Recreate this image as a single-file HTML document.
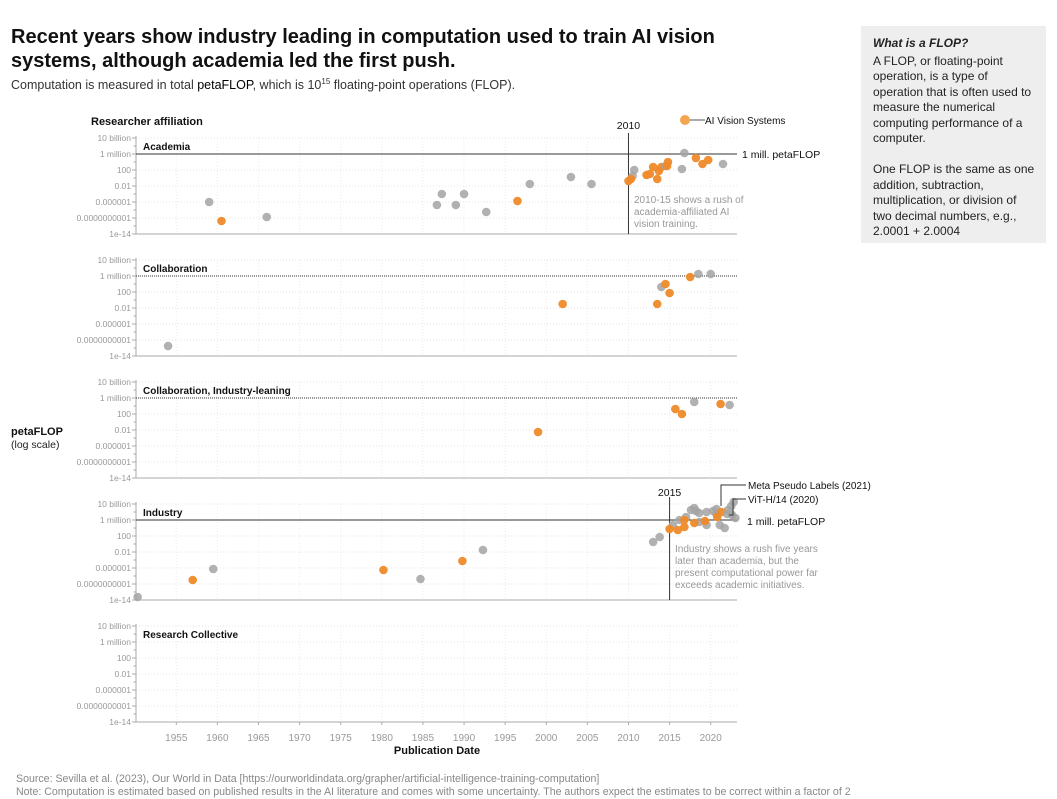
<!DOCTYPE html>
<html><head><meta charset="utf-8">
<style>
body{margin:0;background:#fff;font-family:"Liberation Sans",sans-serif;}
#wrap{position:relative;width:1057px;height:799px;overflow:hidden;}
.t{position:absolute;}
</style></head><body>
<div id="wrap">
<div class="t" style="left:11px;top:25px;width:740px;font-size:20px;font-weight:bold;line-height:24px;color:#111;">Recent years show industry leading in computation used to train AI vision systems, although academia led the first push.</div>
<div class="t" style="left:11px;top:77px;font-size:12.5px;color:#333;">Computation is measured in total <span style="color:#000">petaFLOP</span>, which is 10<sup style="font-size:8px">15</sup> floating-point operations (FLOP).</div>
<div class="t" style="left:861px;top:26px;width:163px;height:197px;padding:10px 10px 10px 12px;background:#eeeeee;font-size:12px;line-height:15.5px;color:#222;">
<div style="font-weight:bold;font-style:italic;margin-bottom:2px;">What is a FLOP?</div>
A FLOP, or floating-point operation, is a type of operation that is often used to measure the numerical computing performance of a computer.<br><br>One FLOP is the same as one addition, subtraction, multiplication, or division of two decimal numbers, e.g., 2.0001 + 2.0004</div>
<div class="t" style="left:16px;top:773px;font-size:10.6px;line-height:13px;color:#888;white-space:nowrap;">Source: Sevilla et al. (2023), Our World in Data [https://ourworldindata.org/grapher/artificial-intelligence-training-computation]<br>Note: Computation is estimated based on published results in the AI literature and comes with some uncertainty. The authors expect the estimates to be correct within a factor of 2</div>
<svg id="chart" width="1057" height="799" style="position:absolute;left:0;top:0;"></svg>
</div>
<script>
const panelNames=["Academia","Collaboration","Collaboration, Industry-leaning","Industry","Research Collective"];
const yTickVals=[10,6,2,-2,-6,-10,-14];
const yTickLabels=["10 billion","1 million","100","0.01","0.000001","0.0000000001","1e-14"];
const xTicks=[1955,1960,1965,1970,1975,1980,1985,1990,1995,2000,2005,2010,2015,2020];
const ptPanel=[0,0,0,0,0,0,0,0,0,0,0,0,0,0,0,0,0,0,0,0,0,0,0,0,0,0,0,0,0,0,0,
1,1,1,1,1,1,1,1,1,
2,2,2,2,2,2,
3,3,3,3,3,3,3,3,3,3,3,3,3,3,3,3,3,3,3,3,3,3,3,3,3,3,3,3,3,3,3,3,3,3,3,3,3,3,3,
4];
const ptYear=[1959,1960.5,1966,1986.7,1987.3,1989,1990,1992.7,1996.5,1998,2003,2005.5,2010.7,2010.5,2010,2010.3,2012.2,2012.6,2013,2014,2013.7,2014.5,2014.8,2014.7,2013.5,2016.5,2016.8,2018.2,2019,2019.7,2021.5,
1954,2002,2013.5,2014,2014.5,2015,2017.5,2018.5,2020,
1999,2015.7,2016.5,2018,2021.2,2022.3,
1950.3,1957,1959.5,1980.2,1984.7,1989.8,1992.3,2013,2013.8,2015.4,2016.2,2017,2017.6,2018.6,2018.2,2019.5,2019.5,2020.7,2021.1,2021.7,2020.7,2022.1,2022.5,2022.8,2023,2022.6,2018.6,2020.3,2018,
2015,2016,2016.8,2016.8,2018,2019.3,2020.8,2021.3,
2022];
const ptLog=[-6,-10.75,-9.75,-6.75,-4,-6.75,-4,-8.5,-5.75,-1.5,0.25,-1.5,2,0.5,-0.75,-0.25,0.75,1,2.75,2.75,1.75,3,4,3,-0.25,2.25,6.25,5,3.5,4.5,3.5,
-11.5,-1,-1,3.25,4,1.75,5.75,6.5,6.5,
-2.5,3.25,2,5,4.5,4.25,
-13.25,-9,-6.25,-6.5,-8.75,-4.25,-1.5,0.5,1.75,4.75,6,6.75,8.5,5.5,8.25,4.75,8,7.5,4.75,4,8.75,8.5,9.5,10.5,6.5,7.25,7.75,8.25,9,
3.75,3.5,4.25,6,5.25,5.75,6.75,8,
7.5];
const ptVision=[0,1,0,0,0,0,0,0,1,0,0,0,0,0,1,1,1,1,1,1,1,0,1,1,1,0,0,1,1,1,0,
0,1,1,0,1,1,1,0,0,
1,1,1,0,1,0,
0,1,0,1,0,1,0,0,0,0,0,0,0,0,0,0,0,0,0,0,0,0,0,0,0,0,0,0,0,
1,1,1,1,1,1,1,1,
0];
const ns="http://www.w3.org/2000/svg";
const svg=document.getElementById('chart');
function el(tag,attrs,parent){const e=document.createElementNS(ns,tag);for(const k in attrs)e.setAttribute(k,attrs[k]);(parent||svg).appendChild(e);return e;}
function txt(x,y,s,attrs){const e=el('text',Object.assign({x:x,y:y,'font-family':'Liberation Sans, sans-serif'},attrs));e.textContent=s;return e;}
const X0=136,X1=737,Y0=1950.1,Y1=2023.2;
function xs(yr){return X0+(yr-Y0)/(Y1-Y0)*(X1-X0);}
const panelTop=[138,260,382,504,626];
function ys(p,v){return panelTop[p]+(10-v)*4;}
txt(91,125,"Researcher affiliation",{'font-size':11,'font-weight':'bold',fill:'#111'});
panelNames.forEach((nm,p)=>{
  const g=el('g',{});
  
  
  for(let v=10;v>=-14;v-=2){
    if(yTickVals.indexOf(v)>=0){
      const gl=el('line',{x1:X0,x2:X1,y1:ys(p,v),y2:ys(p,v),stroke:'#e6e6e6','stroke-dasharray':'1,2','stroke-width':1},g);
      
      
      el('line',{x1:X0-4,x2:X0,y1:ys(p,v),y2:ys(p,v),stroke:'#aaa'},g);
    } else el('line',{x1:X0-2.5,x2:X0,y1:ys(p,v),y2:ys(p,v),stroke:'#aaa'},g);
  }
  xTicks.forEach(t=>{const gl=el('line',{x1:xs(t),x2:xs(t),y1:ys(p,10),y2:ys(p,-14),stroke:'#ececec','stroke-dasharray':'1,2'},g);
    
    });
  el('line',{x1:X0,x2:X0,y1:ys(p,10.5),y2:ys(p,-14),stroke:'#aaa'},g);
  el('line',{x1:X0,x2:X1,y1:ys(p,-14),y2:ys(p,-14),stroke:'#aaa'},g);
  yTickVals.forEach((v,i)=>{const t=txt(X0-5,ys(p,v)+3,yTickLabels[i],{'font-size':8.5,fill:'#999','text-anchor':'end'},g);
    
    });
  const pt=txt(143,ys(p,8)+4,nm,{'font-size':10,'font-weight':'bold',fill:'#111'},g);
  
  
});
el('line',{x1:X0,x2:X1,y1:ys(0,6),y2:ys(0,6),stroke:'#333'});
txt(742,ys(0,6)+4,"1 mill. petaFLOP",{'font-size':10.5,fill:'#111'});
el('line',{x1:X0,x2:X1,y1:ys(1,6),y2:ys(1,6),stroke:'#333','stroke-dasharray':'1,1'});
el('line',{x1:X0,x2:X1,y1:ys(2,6),y2:ys(2,6),stroke:'#333','stroke-dasharray':'1,1'});
el('line',{x1:X0,x2:X1,y1:ys(3,6),y2:ys(3,6),stroke:'#333'});
txt(747,ys(3,6)+5,"1 mill. petaFLOP",{'font-size':10.5,fill:'#111'});
el('line',{x1:xs(2010),x2:xs(2010),y1:133,y2:ys(0,-14),stroke:'#333'});
txt(xs(2010),129,"2010",{'font-size':10.5,fill:'#111','text-anchor':'middle'});
el('line',{x1:xs(2015),x2:xs(2015),y1:497,y2:ys(3,-14),stroke:'#333'});
txt(xs(2015),496,"2015",{'font-size':10.5,fill:'#111','text-anchor':'middle'});
[["2010-15 shows a rush of",203],["academia-affiliated AI",215],["vision training.",227]].forEach(a=>txt(634,a[1],a[0],{'font-size':10,fill:'#999'}));
[["Industry shows a rush five years",552],["later than academia, but the",564],["present computational power far",576],["exceeds academic initiatives.",588]].forEach(a=>txt(675,a[1],a[0],{'font-size':10,fill:'#999'}));
ptYear.forEach((yr,i)=>{
  const c=el('circle',{cx:xs(yr),cy:ys(ptPanel[i],ptLog[i]),r:4.3,fill:ptVision[i]?'#ef8a2a':'#a3a3a3','fill-opacity':ptVision[i]?0.95:0.85});
  
  
});
el('polyline',{points:"721,506 721,485 746,485",fill:'none',stroke:'#333'});
txt(748,489,"Meta Pseudo Labels (2021)",{'font-size':10,fill:'#111'});
el('polyline',{points:"729,515 733,515 733,499 746,499",fill:'none',stroke:'#333'});
txt(748,503,"ViT-H/14 (2020)",{'font-size':10,fill:'#111'});
const lc=el('circle',{cx:685,cy:120,r:5,fill:'#f5a450'});


el('line',{x1:690,x2:705,y1:120,y2:120,stroke:'#555'});
txt(705,124,"AI Vision Systems",{'font-size':10,fill:'#111'});
xTicks.forEach(t=>{el('line',{x1:xs(t),x2:xs(t),y1:722,y2:725,stroke:'#aaa'});
  const l=txt(xs(t),741,String(t),{'font-size':10,fill:'#999','text-anchor':'middle'});
  
  });
txt(437,754,"Publication Date",{'font-size':11,'font-weight':'bold',fill:'#111','text-anchor':'middle'});
txt(11,435,"petaFLOP",{'font-size':11,'font-weight':'bold',fill:'#111'});
txt(11,448,"(log scale)",{'font-size':10.5,fill:'#222'});
</script>
</body></html>
